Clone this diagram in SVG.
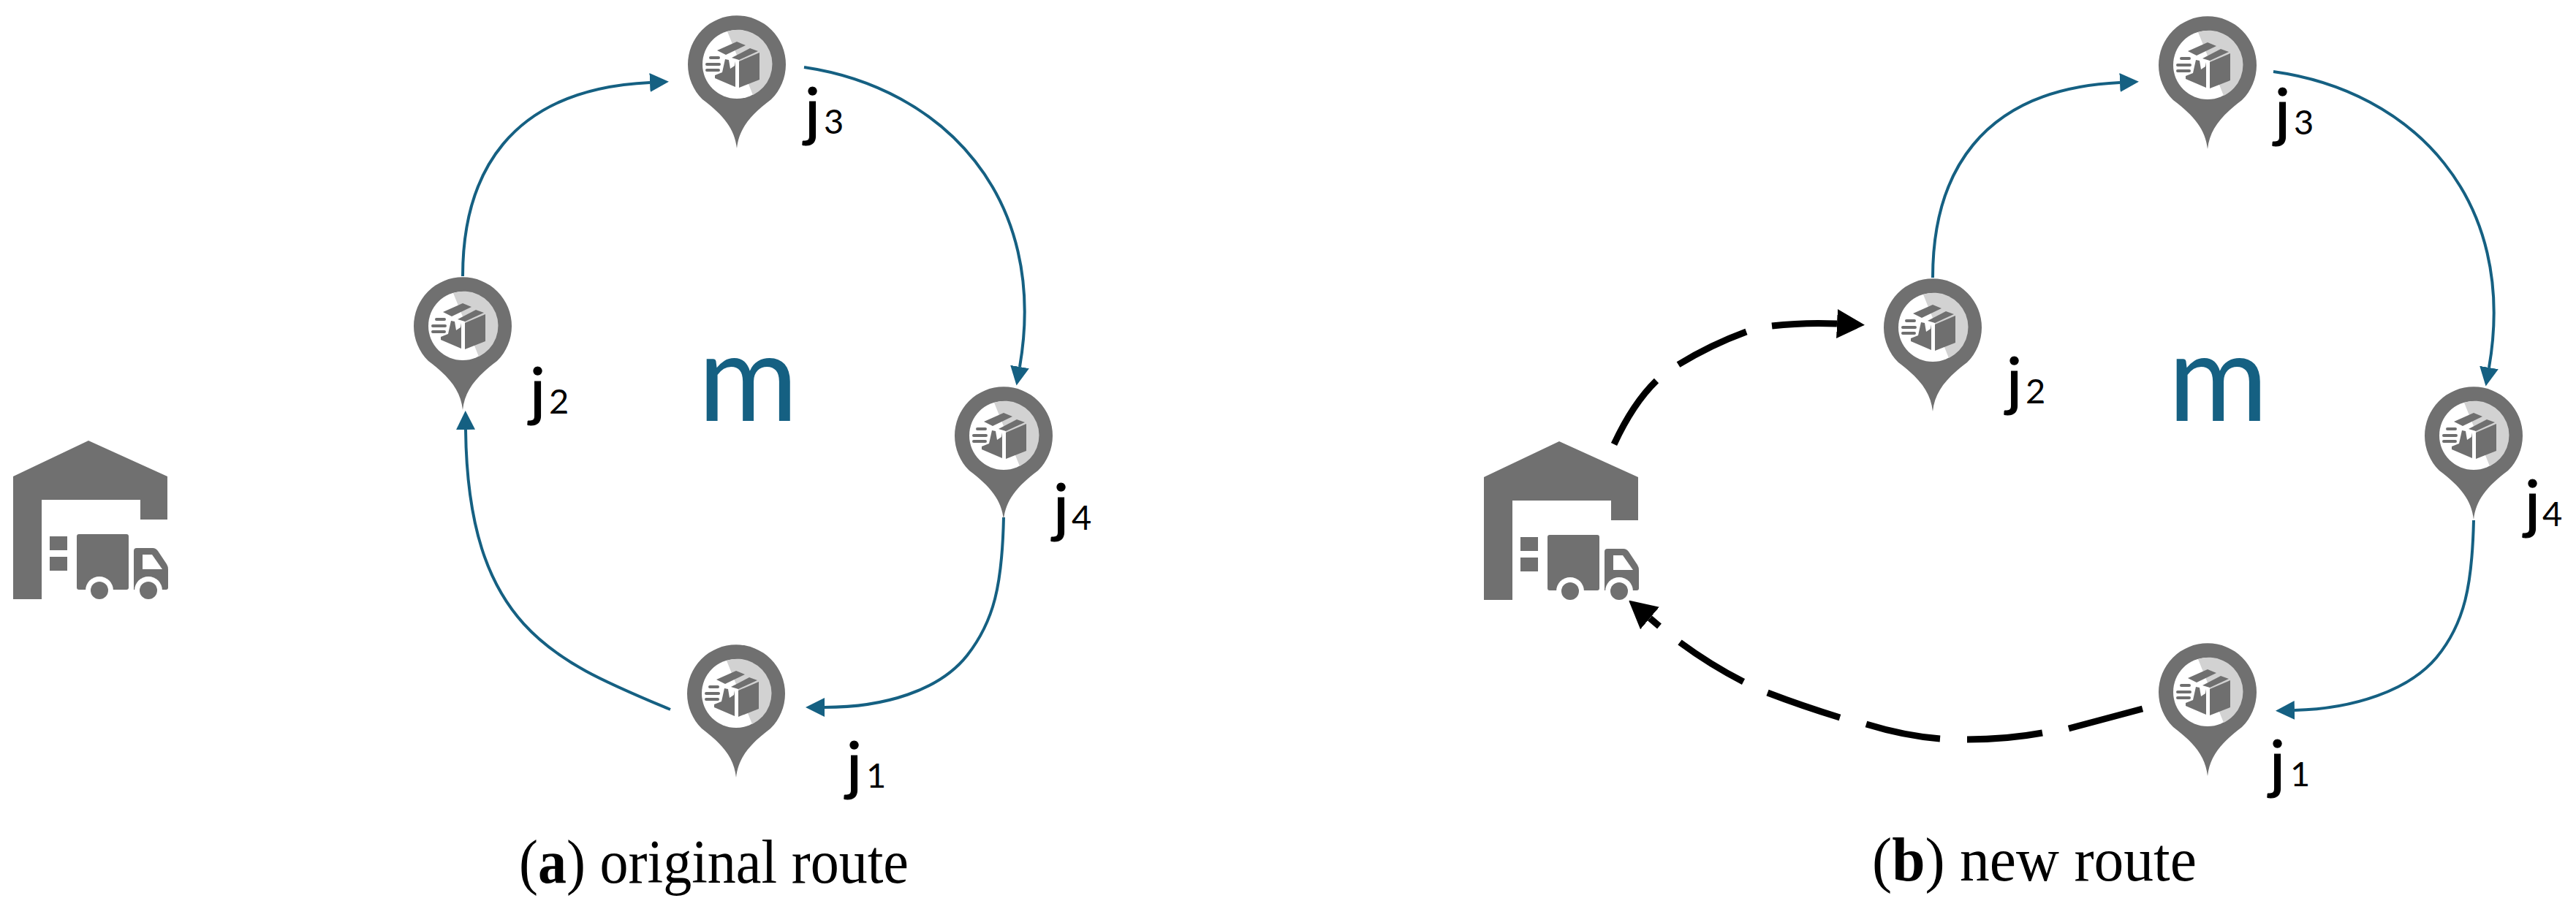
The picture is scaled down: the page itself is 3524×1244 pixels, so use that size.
<svg xmlns="http://www.w3.org/2000/svg" xmlns:xlink="http://www.w3.org/1999/xlink" width="3524" height="1244" viewBox="0 0 3524 1244">
<style>
.route{fill:none;stroke:#156082;stroke-width:4;marker-end:url(#ah)}
.dash{fill:none;stroke:#000;stroke-width:9}
.jl{font-family:"Lato","Open Sans",sans-serif;fill:#000;font-size:88px;stroke:#000;stroke-width:1.2}
.jl tspan{font-size:47px;stroke:none}
.m{font-family:"Lato","Open Sans",sans-serif;fill:#156082;font-size:166px}
.cap{font-family:"Liberation Serif",serif;font-size:84px;fill:#000}
.cap tspan{font-weight:bold}
</style>
<defs>
<marker id="ah" markerUnits="userSpaceOnUse" markerWidth="28" markerHeight="28" refX="0" refY="13" orient="auto"><path d="M0 0L26 13L0 26Z" fill="#156082"/></marker>
<marker id="bh" markerUnits="userSpaceOnUse" markerWidth="40" markerHeight="42" refX="0" refY="20" orient="auto"><path d="M0 0L38 20L0 40Z" fill="#000"/></marker>
<symbol id="pin" overflow="visible" width="1" height="1">
<path d="M0 115C-3 88-18 70-47 48A67 67 0 1 1 47 48C18 70 3 88 0 115Z" fill="#707070"/>
<circle r="47" fill="#fff"/>
<path d="M-13-45A47 47 0 0 1 22 42Z" fill="#d2d2d2"/>
<g fill="#6f6f6f">
<path d="M-27-19L0-31L12-26L-15-13Z"/>
<path d="M-7-9L18-22L29-18L3-6Z"/>
<path d="M3-4L31-16V21L3 32Z"/>
<path d="M-2-4V31L-30 19V15L-20 11L-16-7L-11-6L-9 6L-3 2Z"/>
</g>
<path d="M-36-9H-25M-41 0H-24M-41 8H-25" stroke="#6f6f6f" stroke-width="4" stroke-linecap="round" fill="none"/>
</symbol>
<symbol id="depot" overflow="visible" width="1" height="1">
<path d="M18 652L121 603L229 652V711H192V684H57V820H18Z" fill="#707070"/>
<rect x="68" y="734" width="24" height="19" fill="#707070"/>
<rect x="68" y="762" width="24" height="19" fill="#707070"/>
<rect x="105" y="731" width="71" height="76" rx="3" fill="#707070"/>
<path d="M183 807V754Q183 750 187 750H209Q213 750 216 754L228 772Q230 775 230 780V804Q230 807 227 807Z" fill="#707070"/>
<path d="M195 759H208L222 779H195Z" fill="#fff"/>
<circle cx="136" cy="808" r="19" fill="#fff"/>
<circle cx="203" cy="808" r="19" fill="#fff"/>
<circle cx="136" cy="808" r="12" fill="#707070"/>
<circle cx="203" cy="808" r="12" fill="#707070"/>
</symbol>
</defs>
<rect width="3524" height="1244" fill="#fff"/>
<g id="connectors">
<path class="route" d="M633 378C633 240 695 122 889 113"/>
<path class="route" d="M1100 92C1290 120 1435 270 1395 502"/>
<path class="route" d="M1373 708C1371 800 1360 850 1323 897C1285 945 1210 968 1128 968"/>
<path class="route" d="M917 971C760 905 640 860 637 588"/>
<path class="route" d="M2644 380C2644 242 2706 122 2900 113"/>
<path class="route" d="M3110 98C3300 124 3445 272 3405 503"/>
<path class="route" d="M3384 712C3382 800 3372 853 3333 900C3295 945 3220 970 3139 972"/>
<path class="dash" d="M2208 608Q2234 552 2266 521M2296 499Q2340 472 2389 454"/>
<path class="dash" d="M2424 446Q2468 441 2513 443" marker-end="url(#bh)"/>
<path class="dash" d="M2931 970L2830 997M2794 1003Q2745 1012 2691 1012M2654 1011Q2605 1007 2553 991M2517 982Q2465 966 2418 948M2385 933Q2340 910 2298 879"/>
<path class="dash" d="M2270 857L2257 846" marker-end="url(#bh)"/>
</g>
<g id="depot-a"><use href="#depot" x="0" y="0"/></g>
<g id="depot-b"><use href="#depot" x="2012" y="1"/></g>
<g id="a-j1"><use href="#pin" x="1007" y="949"/><text class="jl" x="1158" y="1078">j<tspan x="1185">1</tspan></text></g>
<g id="a-j2"><use href="#pin" x="633" y="446"/><text class="jl" x="725" y="566">j<tspan x="751">2</tspan></text></g>
<g id="a-j3"><use href="#pin" x="1008" y="88"/><text class="jl" x="1101" y="183">j<tspan x="1127">3</tspan></text></g>
<g id="a-j4"><use href="#pin" x="1373" y="596"/><text class="jl" x="1441" y="725">j<tspan x="1466">4</tspan></text></g>
<g id="b-j1"><use href="#pin" x="3020" y="947"/><text class="jl" x="3105" y="1076">j<tspan x="3133">1</tspan></text></g>
<g id="b-j2"><use href="#pin" x="2644" y="448"/><text class="jl" x="2745" y="552">j<tspan x="2771">2</tspan></text></g>
<g id="b-j3"><use href="#pin" x="3020" y="89"/><text class="jl" x="3112" y="184">j<tspan x="3138">3</tspan></text></g>
<g id="b-j4"><use href="#pin" x="3384" y="596"/><text class="jl" x="3454" y="720">j<tspan x="3478">4</tspan></text></g>
<text class="m" x="955" y="576">m</text>
<text class="m" x="2966" y="576">m</text>
<text class="cap" x="710" y="1208" textLength="533" lengthAdjust="spacingAndGlyphs">(<tspan>a</tspan>) original route</text>
<text class="cap" x="2561" y="1205" textLength="444" lengthAdjust="spacingAndGlyphs">(<tspan>b</tspan>) new route</text>
</svg>
